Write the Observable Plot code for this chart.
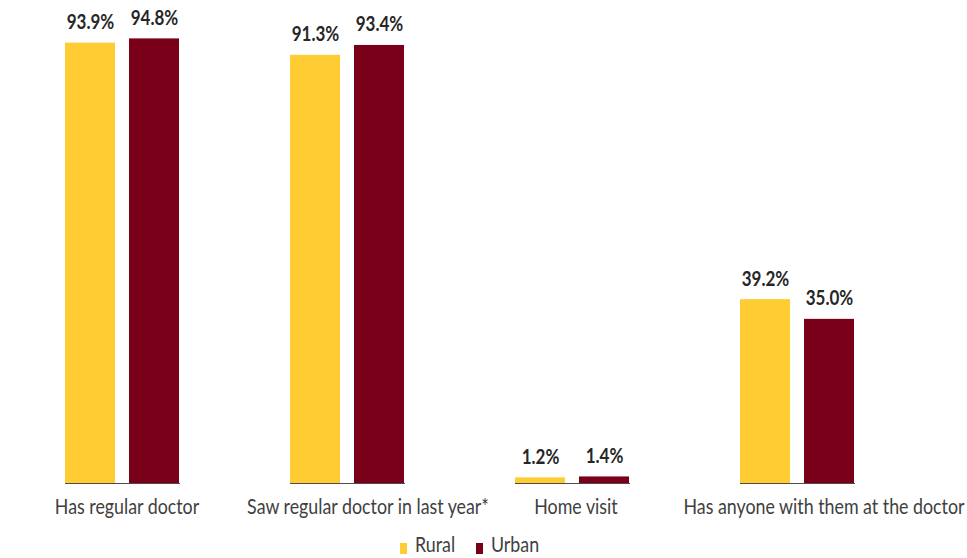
<!DOCTYPE html>
<html>
<head>
<meta charset="utf-8">
<script src="https://cdn.jsdelivr.net/npm/d3@7"></script>
<script src="https://cdn.jsdelivr.net/npm/@observablehq/plot@0.6"></script>
<style>
  html, body { margin: 0; padding: 0; background: #fff; overflow: hidden; }
  body { width: 967px; height: 558px; position: relative; font-family: Lato, "Open Sans", sans-serif; }
  #chart { position: absolute; top: 0; left: 0; }
  #legend { position: absolute; top: 532px; left: 0; width: 967px; height: 26px; font-size: 22px; color: #404040; }
  .item { position: absolute; top: 0; line-height: 24px; transform: scaleX(0.81); transform-origin: 0 0; white-space: nowrap; }
  .sw { position: absolute; width: 7px; height: 11px; top: 11px; }
</style>
</head>
<body>
<div id="chart"></div>
<div id="legend"></div>
<script>
const categories = ["Has regular doctor", "Saw regular doctor in last year*", "Home visit", "Has anyone with them at the doctor"];
const series = ["Rural", "Urban"];
const rural = [93.9, 91.3, 1.2, 39.2];
const urban = [94.8, 93.4, 1.4, 35.0];
const colors = ["#FFCC33", "#7A0019"];

const data = categories.flatMap((c, i) => [
  {category: c, group: series[0], value: rural[i]},
  {category: c, group: series[1], value: urban[i]}
]);

// label nudges (layout only)
const nudge = {[categories[0]]: 4, [categories[1]]: 20, [categories[2]]: 3, [categories[3]]: 26};
const font = "Lato, 'Open Sans', sans-serif";

const chart = Plot.plot({
  width: 967,
  height: 525,
  marginTop: 14,
  marginBottom: 42,
  marginLeft: 9,
  marginRight: 57,
  style: {fontFamily: font, background: "#fff"},
  fx: {domain: categories, paddingInner: 0.489, paddingOuter: 0.2445, axis: null},
  x: {domain: series, paddingInner: 0.217, paddingOuter: 0, axis: null},
  y: {domain: [0, 100], axis: null},
  color: {domain: series, range: colors},
  marks: [
    Plot.barY(data, {fx: "category", x: "group", y: "value", fill: "group"}),
    Plot.text(data, {fx: "category", x: "group", y: "value", text: d => d.value.toFixed(1) + "%",
      lineAnchor: "bottom", dy: -14, fontSize: 20, fontWeight: "bold", fill: "#262626"}),
    ...categories.map(c => Plot.text([c], {fx: d => d, text: d => d, frameAnchor: "bottom",
      lineAnchor: "bottom", dy: 30, dx: nudge[c], fontSize: 22, fill: "#404040"})),
    Plot.ruleY([0], {stroke: "#4d4d4d", strokeWidth: 1.2})
  ]
});
document.getElementById("chart").appendChild(chart);

// horizontally condense text glyphs (Calibri-like narrow look)
chart.querySelectorAll("text").forEach(t => {
  let tr = t.getAttribute("transform") || "";
  if (t.hasAttribute("x") || t.hasAttribute("y")) {
    const x = +t.getAttribute("x") || 0, y = +t.getAttribute("y") || 0;
    t.removeAttribute("x"); t.removeAttribute("y");
    tr = `translate(${x},${y}) ` + tr;
  }
  const bold = t.closest("[font-weight]");
  const s = bold && bold.getAttribute("font-weight") === "bold" ? 0.85 : 0.81;
  t.setAttribute("transform", tr + ` scale(${s},1)`);
});

const legend = document.getElementById("legend");
const legendX = [400, 476];
series.forEach((s, i) => {
  const sw = document.createElement("div");
  sw.className = "sw";
  sw.style.left = legendX[i] + "px";
  sw.style.background = colors[i];
  legend.appendChild(sw);
  const t = document.createElement("div");
  t.className = "item";
  t.style.left = (legendX[i] + 15) + "px";
  t.textContent = s;
  legend.appendChild(t);
});
</script>
</body>
</html>
